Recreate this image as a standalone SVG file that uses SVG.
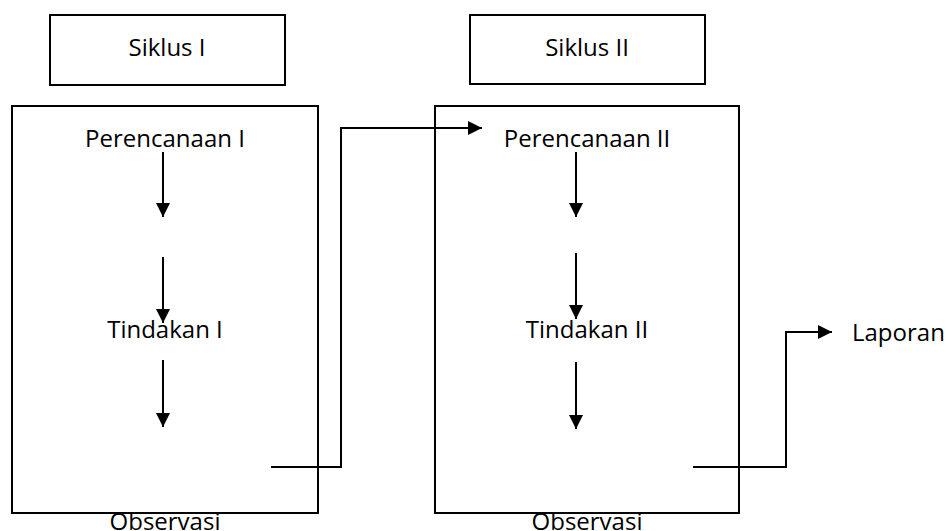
<svg xmlns="http://www.w3.org/2000/svg" width="946" height="531" viewBox="0 0 946 531">
<style>
.box{fill:#fff;stroke:#000;stroke-width:2}
.t{font-family:"Open Sans","Noto Sans",sans-serif;font-size:24px;fill:#000;text-anchor:middle}
.c{fill:none;stroke:#000;stroke-width:2}
</style>
<defs>
<marker id="ah" markerUnits="userSpaceOnUse" markerWidth="16" markerHeight="16" refX="14" refY="7" orient="auto">
<path d="M0,0 L14,7 L0,14 Z" fill="#000"/>
</marker>
</defs>
<rect x="0" y="0" width="946" height="531" fill="#fff"/>
<g id="siklus1"><rect class="box" x="50" y="15" width="235" height="70"/><text class="t" x="167" y="56">Siklus I</text></g>
<g id="siklus2"><rect class="box" x="470" y="15" width="235" height="69"/><text class="t" x="587" y="56">Siklus II</text></g>
<g id="box1"><rect class="box" x="12" y="106" width="306" height="407"/></g>
<g id="box2"><rect class="box" x="435" y="106" width="304" height="407"/></g>
<g id="perencanaan1"><text class="t" x="165" y="147">Perencanaan I</text></g>
<g id="tindakan1"><text class="t" x="165" y="338">Tindakan I</text></g>
<g id="observasi1"><text class="t" x="165" y="530">Observasi</text></g>
<g id="perencanaan2"><text class="t" x="587" y="147">Perencanaan II</text></g>
<g id="tindakan2"><text class="t" x="587" y="338">Tindakan II</text></g>
<g id="observasi2"><text class="t" x="587" y="530">Observasi</text></g>
<g id="laporan"><text class="t" x="852" y="341" style="text-anchor:start">Laporan</text></g>
<g id="connectors">
<line class="c" x1="163" y1="152" x2="163" y2="217" marker-end="url(#ah)"/>
<line class="c" x1="163" y1="257" x2="163" y2="323" marker-end="url(#ah)"/>
<line class="c" x1="163" y1="360" x2="163" y2="427" marker-end="url(#ah)"/>
<line class="c" x1="576" y1="152" x2="576" y2="217" marker-end="url(#ah)"/>
<line class="c" x1="576" y1="253" x2="576" y2="319" marker-end="url(#ah)"/>
<line class="c" x1="576" y1="362" x2="576" y2="429" marker-end="url(#ah)"/>
<polyline class="c" points="271,467 341,467 341,128 482,128" marker-end="url(#ah)"/>
<polyline class="c" points="693,467 786,467 786,332 832,332" marker-end="url(#ah)"/>
</g>
</svg>
